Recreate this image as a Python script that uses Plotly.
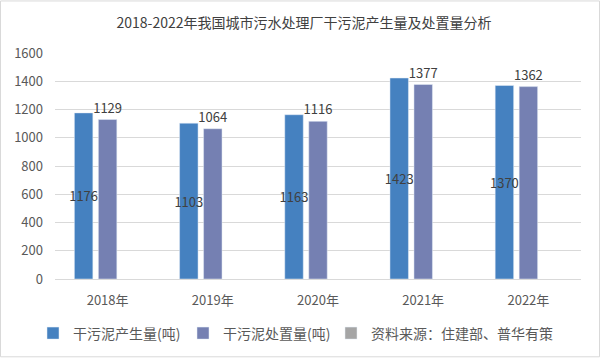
import plotly.graph_objects as go

years = ["2018年", "2019年", "2020年", "2021年", "2022年"]
produced = [1176, 1103, 1163, 1423, 1370]
disposed = [1129, 1064, 1116, 1377, 1362]
series_names = ["干污泥产生量(吨)", "干污泥处置量(吨)"]
source = "资料来源：住建部、普华有策"
title = "2018-2022年我国城市污水处理厂干污泥产生量及处置量分析"

font = "Microsoft YaHei, Noto Sans CJK SC, sans-serif"

# plot area geometry (pixels)
L, R, T, B = 55, 20, 53, 80
W, H = 601 - L - R, 361 - T - B

def px(x):
    return (x - L) / W

def py(y):
    return (361 - B - y) / H

fig = go.Figure()
fig.add_trace(go.Bar(
    x=years, y=produced, name=series_names[0], legend="legend",
    marker=dict(color="#4581C0"),
    text=[str(v) for v in produced], textposition="inside",
    insidetextanchor="middle", textangle=0, constraintext="none",
    textfont=dict(color="#404040", size=13, family=font),
))
fig.add_trace(go.Bar(
    x=years, y=disposed, name=series_names[1], legend="legend2",
    marker=dict(color="#7580B2"),
    text=[str(v) for v in disposed], textposition="outside",
    textangle=0, cliponaxis=False, constraintext="none",
    textfont=dict(color="#404040", size=13, family=font),
))
# empty series carrying the source note (as in the original chart)
fig.add_trace(go.Bar(
    x=years, y=[None] * len(years), name=source, legend="legend3",
    marker=dict(color="#A5A5A5"),
))

leg_common = dict(orientation="h", yanchor="middle", xanchor="left", y=py(336),
                  font=dict(size=14, color="#595959", family=font),
                  bgcolor="rgba(0,0,0,0)", itemwidth=30)

fig.update_layout(
    width=601, height=361,
    margin=dict(l=L, r=R, t=T, b=B),
    paper_bgcolor="white", plot_bgcolor="white",
    barmode="group", bargap=0.316, bargroupgap=0.23,
    uniformtext=dict(mode="show", minsize=13),
    title=dict(text=title, x=px(304), xref="paper", xanchor="center",
               y=1 - 23 / 361, yanchor="middle",
               font=dict(size=14, color="#404040", family=font)),
    font=dict(family=font, color="#595959"),
    showlegend=True,
    legend=dict(leg_common, x=px(33)),
    legend2=dict(leg_common, x=px(183)),
    legend3=dict(leg_common, x=px(331)),
    xaxis=dict(showgrid=False, showline=True, linecolor="#D9D9D9", ticks="",
               ticklabelstandoff=9,
               tickfont=dict(size=13, color="#595959")),
    yaxis=dict(range=[0, 1600], dtick=200, showgrid=True, gridcolor="#D9D9D9",
               zeroline=False, ticks="", ticklabelstandoff=11,
               tickfont=dict(size=13, color="#595959")),
)

# outer chart border
fig.add_shape(type="rect", xref="paper", yref="paper",
              x0=px(0.5), x1=px(599.5), y0=py(359.5), y1=py(0.5),
              line=dict(color="#D9D9D9", width=1), layer="below")

fig.write_html("out.html", config={"displayModeBar": False},
               post_script="document.body.style.margin='0';")
